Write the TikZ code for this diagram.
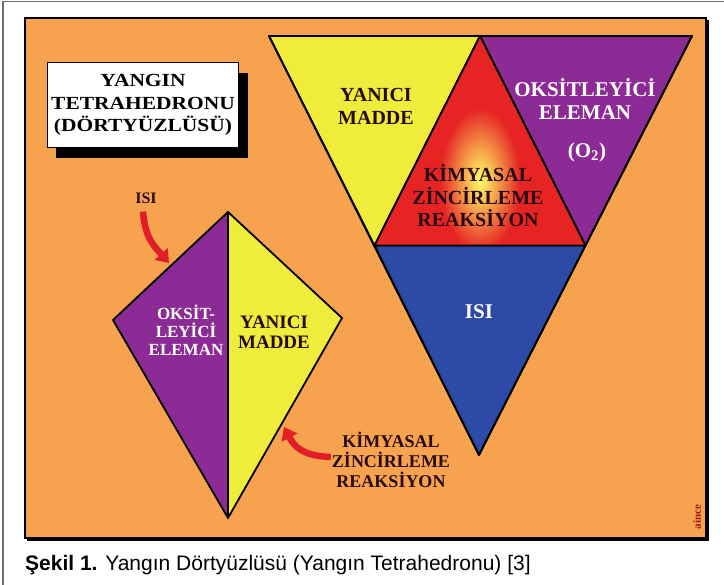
\documentclass[tikz,border=0pt]{standalone}
\usepackage{fontspec}
\setmainfont{Liberation Serif}
\setsansfont{Liberation Sans}
\usetikzlibrary{arrows.meta}
\definecolor{bgorange}{RGB}{246,162,78}
\definecolor{tyellow}{RGB}{240,236,60}
\definecolor{tpurple}{RGB}{140,42,150}
\definecolor{tred}{RGB}{230,36,36}
\definecolor{tblue}{RGB}{44,74,166}
\definecolor{arrred}{RGB}{225,30,40}
\definecolor{darktxt}{RGB}{40,10,20}
\definecolor{framegray}{RGB}{110,110,110}
\tikzset{
  face/.style={draw=black, line width=1.8pt, line join=round},
  lbl/.style={font=\bfseries\fontsize{20}{23}\selectfont, align=center, inner sep=0pt},
  wlbl/.style={lbl, text=white},
  dlbl/.style={lbl, text=darktxt},
  redarrow/.style={draw=arrred, line width=6.5pt, -{Triangle[length=12pt,width=17pt]}},
}
\begin{document}
\begin{tikzpicture}[x=1pt,y=-1pt]
\useasboundingbox (0,0) rectangle (724,585);
\fill[white] (0,0) rectangle (724,585);
% outer frame (top and left)
\draw[framegray, line width=1.2pt] (3,585) -- (3,1.5) -- (724,1.5);
% orange panel
\fill[black] (27,20) rectangle (709,541);
\fill[bgorange] (25,18) rectangle (706,538);
\draw[black, line width=1.5pt] (25,18) rectangle (706,538);

% big tetrahedron net
\coordinate (TL) at (269,36);
\coordinate (TM) at (480,36);
\coordinate (TR) at (692,36);
\coordinate (ML) at (374.5,245.5);
\coordinate (MR) at (585.5,245.5);
\coordinate (BA) at (479,455);
\filldraw[face, fill=tyellow] (TL) -- (TM) -- (ML) -- cycle;
\filldraw[face, fill=tpurple] (TM) -- (TR) -- (MR) -- cycle;
\filldraw[face, fill=tblue] (ML) -- (MR) -- (BA) -- cycle;
\begin{scope}
  \clip (TM) -- (MR) -- (ML) -- cycle;
  \fill[tred] (TM) -- (MR) -- (ML) -- cycle;
  \shade[inner color=yellow!60!white, outer color=tred] (480,180) ellipse (40 and 72);
  \node[dlbl, font=\bfseries\fontsize{20}{22.5}\selectfont] (tkim) at (478,196) {KİMYASAL\\ZİNCİRLEME\\REAKSİYON};
\end{scope}
\draw[face, fill=none] (TM) -- (MR) -- (ML) -- cycle;
\draw[face] (TL) -- (TR) -- (BA) -- cycle;

\node[dlbl] (tyan) at (376,106) {YANICI\\MADDE};
\node[wlbl, font=\bfseries\fontsize{21}{23}\selectfont] (toks) at (585,99) {OKSİTLEYİCİ\\ELEMAN};
\node[wlbl, font=\bfseries\fontsize{21}{23}\selectfont] (to2) at (587,152) {(O$_\mathbf{2}$)};
\node[wlbl, font=\bfseries\fontsize{21}{23}\selectfont] (tisi) at (479,312) {ISI};

% kite
\coordinate (KT) at (228,212);
\coordinate (KL) at (113,320);
\coordinate (KR) at (342,318);
\coordinate (KB) at (228,518);
\filldraw[face, fill=tpurple] (KT) -- (KL) -- (KB) -- cycle;
\filldraw[face, fill=tyellow] (KT) -- (KR) -- (KB) -- cycle;
\node[wlbl, font=\bfseries\fontsize{17}{18}\selectfont] (koks) at (186,330) {OKSİT-\\LEYİCİ\\ELEMAN};
\node[dlbl, font=\bfseries\fontsize{19}{20}\selectfont] (kyan) at (274,332) {YANICI\\MADDE};

% title box
\fill[black] (56,73) rectangle (248,158);
\filldraw[fill=white, draw=black, line width=1pt] (47,63) rectangle (238,148);
\node[align=center, inner sep=0pt, font=\bfseries\fontsize{18.5}{22.5}\selectfont, text=black] (title) at (143,105)
  {\scalebox{1.16}[1]{YANGIN}\\\scalebox{1.16}[1]{TETRAHEDRONU}\\\scalebox{1.16}[1]{(DÖRTYÜZLÜSÜ)}};

% ISI arrow
\node[dlbl, font=\bfseries\fontsize{16}{18}\selectfont] (isilbl) at (146,198) {ISI};
\coordinate (isitip) at (169,263);
\draw[redarrow] (isilbl.south) ++(-3,8) .. controls (145,238) and (154,246) .. (isitip);

% chain reaction label and arrow
\node[dlbl, font=\bfseries\fontsize{18}{20}\selectfont] (kzr) at (391,460) {KİMYASAL\\ZİNCİRLEME\\REAKSİYON};
\coordinate (kztip) at (284,427);
\draw[redarrow] (kzr.west) ++(-1,-3) .. controls (302,456) and (294,446) .. (kztip);

% signature
\node[rotate=90, text=arrred!70!black, font=\bfseries\fontsize{11}{11}\selectfont, inner sep=0pt] (sig) at (697,517) {aince};

% caption
\node[anchor=west, inner sep=0pt, font=\sffamily\fontsize{21}{23}\selectfont] (cap) at (25,565)
  {\textbf{Şekil 1.} Yangın Dörtyüzlüsü (Yangın Tetrahedronu) [3]};
\end{tikzpicture}
\end{document}
